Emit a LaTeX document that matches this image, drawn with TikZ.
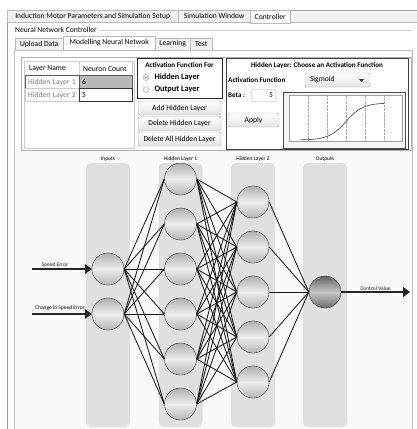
\documentclass[tikz,border=0pt]{standalone}
\usepackage{fontspec}
\setmainfont{Carlito}
\usetikzlibrary{arrows.meta}

\tikzset{
  gui/.style={font=\fontsize{7.6}{8}\selectfont},
  tab/.style={gui, draw=gray!55, fill=gray!12, anchor=west, minimum height=12, inner sep=1.5},
  bold/.style={font=\bfseries\fontsize{7.1}{8}\selectfont},
  cell/.style={gui, anchor=west, inner sep=3, minimum height=13, align=left},
  btn/.style={gui, draw=gray!60, rounded corners=1.5, top color=white, bottom color=gray!22,
    minimum width=83, minimum height=14, inner sep=1},
  radio/.style={circle, draw=gray!70, fill=gray!8, inner sep=0, minimum size=6},
  layer/.style={fill=gray!24, rounded corners=5, minimum width=44, minimum height=264, inner sep=0},
  lbl/.style={font=\fontsize{5.5}{6}\selectfont, inner sep=1},
  neuron/.style={circle, draw=gray!40!black, minimum size=32, inner sep=0,
    top color=gray!62, bottom color=gray!58, middle color=gray!14},
  outneuron/.style={neuron, top color=black!62, bottom color=black!58, middle color=black!22},
  link/.style={black!90, line width=0.85},
  feed/.style={black!85, line width=1.4, -{Triangle[length=7, width=10]}}
}

\begin{document}
\begin{tikzpicture}[x=1pt,y=-1pt]
  \useasboundingbox (0,0) rectangle (417,429);
  \fill[white] (0,0) rectangle (417,429);

  % window and tab strip
  \fill[gray!10] (7,10) rectangle (417,22);
  \draw[gray!75] (7,429) -- (7,10) -- (417,10);
  \draw[gray!55] (7,22) -- (417,22);
  \node[tab, minimum width=171] (T1) at (7,16) {Induction Motor Parameters and Simulation Setup};
  \node[tab, minimum width=72] (T2) at (178,16) {Simulation Window};
  \node[tab, fill=white, minimum width=40, minimum height=13] (T3) at (250,16.5) {Controller};

  \node[gui, anchor=west, inner sep=1] (G) at (14,30) {Neural Network Controller};
  \draw[gray!35] (G.east) -- (412,30);

  % sub tabs
  \node[tab, minimum width=48] (U1) at (15,44) {Upload Data};
  \node[tab, fill=white, minimum width=92, minimum height=14] (U2) at (63,43) {Modelling Neural Netwok};
  \node[tab, minimum width=35] (U3) at (155,44) {Learning};
  \node[tab, minimum width=22] (U4) at (190,44) {Test};
  \draw[gray!50] (14,429) -- (14,50) -- (63,50);
  \draw[gray!50] (155,50) -- (412,50) -- (412,429);

  % upper panel
  \draw[gray!60] (21,57) rectangle (411,150);
  \fill[gray!5] (15,151) rectangle (411,429);

  % layer table
  \draw[gray!40] (24,61) rectangle (134,148);
  \draw[gray!30] (79,62) -- (79,75);
  \draw[gray!45] (132,61) -- (132,75);
  \node[cell] (LN) at (26,69) {Layer Name};
  \node[cell] (NC) at (80,69) {Neuron Count};
  \node[cell, draw=gray!70!black, text=gray, text width=48] (L1) at (25,82) {Hidden Layer 1};
  \node[cell, draw=gray!70!black, fill=gray!55, text width=47] (C1) at (79,82) {6};
  \node[cell, draw=gray!40, text=gray, text width=48] (L2) at (25,95) {Hidden Layer 2};
  \node[cell, draw=black!80, text width=47] (C2) at (79,95) {5};

  % activation function for
  \draw[black!85, line width=1] (137,58) rectangle (222,98);
  \node[bold] (AFF) at (179.5,65) {Activation Function For};
  \node[radio] (R1) at (146,77.5) {};
  \fill[gray!60] (R1.center) circle (1.5);
  \node[radio] (R2) at (146,89.5) {};
  \node[bold, font=\bfseries\fontsize{8.3}{9}\selectfont, anchor=west] (RH) at (151,77.5) {Hidden Layer};
  \node[bold, font=\bfseries\fontsize{8.3}{9}\selectfont, anchor=west] (RO) at (151,89.5) {Output Layer};

  \node[btn] (B1) at (179.5,108) {Add Hidden Layer};
  \node[btn] (B2) at (179.5,123.5) {Delete Hidden Layer};
  \node[btn] (B3) at (179.5,139) {Delete All Hidden Layer};

  % choose activation function
  \draw[black!75, line width=1] (226,58) rectangle (408,149);
  \node[bold] (HT) at (317,65.5) {Hidden Layer: Choose an Activation Function};
  \node[bold, anchor=west, inner sep=1] (AL) at (227,80) {Activation Function};
  \node[btn, minimum width=65, text width=55, align=left] (DD) at (337.5,80) {Sigmoid};
  \fill[black!80] (359,79) -- (364,79) -- (361.5,82) -- cycle;
  \node[bold, anchor=west, inner sep=1] (BL) at (227,95) {Beta :};
  \node[gui, draw=gray!25, fill=white, minimum height=12, text width=20, align=right, inner sep=2] (BT) at (263,95) {5};
  \node[btn, minimum width=51] (AP) at (253.5,120) {Apply};

  % sigmoid plot
  \draw[gray!60!black, fill=gray!8] (283,92) rectangle (405,148);
  \draw[gray!75, fill=white] (289,95) rectangle (402,141);
  \foreach \g in {308,327,346,365,384}
    \draw[densely dotted, gray!70] (\g,95) -- (\g,141);
  \draw[gray!50!black, line width=0.6] plot[domain=300:384, samples=60]
    (\x, {140-37/(1+exp(-(\x-346)/8.5))});

  % layer columns
  \node[layer, label={[lbl]above:Inputs}] (colIn) at (108,295) {};
  \node[layer, label={[lbl]above:Hidden Layer 1}] (colHa) at (180.5,295) {};
  \node[layer, label={[lbl]above:Hidden Layer 2}] (colHb) at (253,295) {};
  \node[layer, label={[lbl]above:Outputs}] (colOut) at (325,295) {};

  % neurons
  \node[neuron] (In1) at (108,269) {};
  \node[neuron] (In2) at (108,314) {};
  \foreach \k in {1,...,6}
    \node[neuron] (Ha\k) at (180.5,{134+45*\k}) {};
  \foreach \k in {1,...,5}
    \node[neuron] (Hb\k) at (253,{157+45*\k}) {};
  \node[outneuron] (Out) at (325,292) {};

  % connections
  \foreach \i in {1,2}
    \foreach \j in {1,...,6}
      \path[link] (In\i.east) edge (Ha\j.west);
  \foreach \i in {1,...,6}
    \foreach \j in {1,...,5}
      \path[link] (Ha\i.east) edge (Hb\j.west);
  \foreach \i in {1,...,5}
    \path[link] (Hb\i.east) edge (Out.west);

  % inputs and output
  \coordinate (s1) at (32,269);
  \coordinate (s2) at (32,314);
  \coordinate (t) at (410,292);
  \draw[feed] (s1) -- (In1.west) node[lbl, pos=0.38, above] {Speed Error};
  \draw[feed] (s2) -- (In2.west);
  \begin{scope}
    \clip (15,300) rectangle (86,313);
    \node[lbl, anchor=south west] (CSE) at (34,312) {Change in Speed Error};
  \end{scope}
  \draw[feed] (Out.east) -- (t) node[lbl, midway, above] {Control Value};
\end{tikzpicture}
\end{document}
